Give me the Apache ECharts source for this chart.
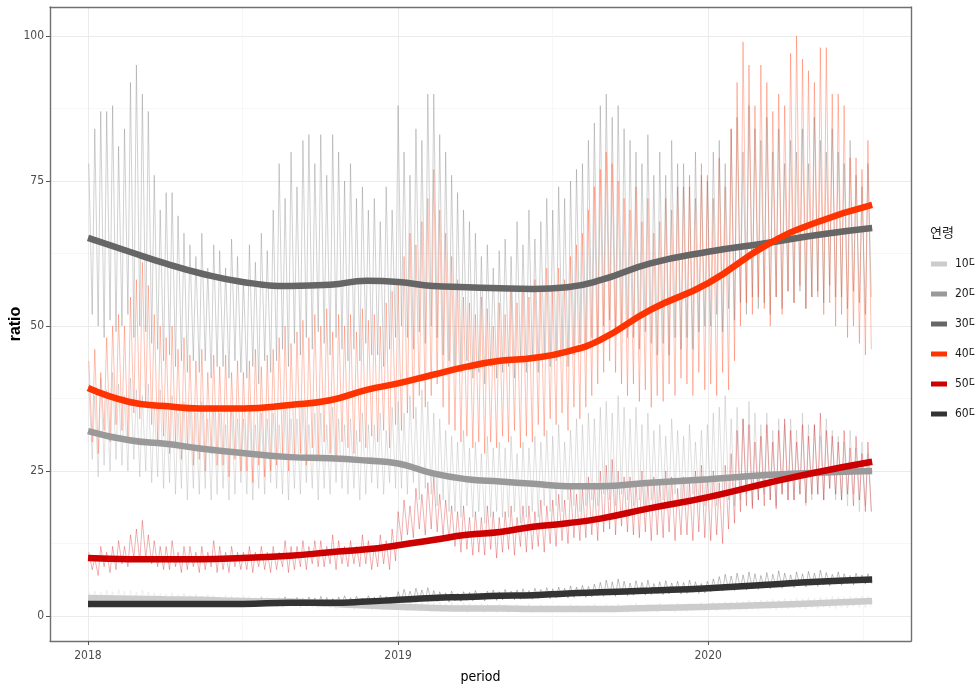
<!DOCTYPE html>
<html>
<head>
<meta charset="utf-8">
<script src="https://cdn.jsdelivr.net/npm/echarts@6/dist/echarts.min.js"></script>
<style>
html, body { margin: 0; background: #fff; }
#chart { width: 975px; height: 691px; }
</style>
</head>
<body>
<div id="chart"></div>
<script>
// 연령대
const ageNames = ['10대', '20대', '30대', '40대', '50대', '60대']
const ageColors = ['#cccccc', '#999999', '#666666', '#ff3300', '#cc0000', '#333333']
const rawColors = ['rgba(204,204,204,0.3)', 'rgba(153,153,153,0.3)', 'rgba(102,102,102,0.3)',
	'rgba(255,51,0,0.3)', 'rgba(204,0,0,0.3)', 'rgba(51,51,51,0.3)']

// 축 눈금
const yearTicks = ['2018-01-01', '2019-01-01', '2020-01-01']
const halfYearTicks = ['2018-07-02', '2019-07-02', '2020-07-02']
const ratioTicks = [0, 25, 50, 75, 100]
const ratioMinorTicks = [12.5, 37.5, 62.5, 87.5]

// 주간 원자료 (2018-01-01 부터 주 단위: 주중 최고 / 주말 최저)
const weekHigh10 = [4.0,4.3,4.1,4.5,4.2,4.6,4.3,4.4,4.1,4.5,4.2,4.0,3.9,3.8,4.0,3.7,3.9,3.6,3.8,3.5,3.7,3.6,3.4,3.6,3.5,3.3,3.5,3.4,3.2,3.4,3.3,3.1,3.3,3.2,3.0,3.2,3.1,2.9,3.1,3.0,2.8,3.0,2.9,2.7,2.9,2.8,2.6,2.8,2.7,2.5,2.7,2.6,
	2.8,2.6,2.5,2.7,2.4,2.6,2.3,2.5,2.2,2.4,2.1,2.3,2.2,2.0,2.2,2.1,1.9,2.1,2.0,1.8,2.0,1.9,2.1,1.8,2.0,1.9,1.7,1.9,1.8,2.0,1.9,1.7,1.9,2.1,1.8,2.0,1.9,2.1,1.8,2.0,2.2,1.9,2.1,2.0,2.2,1.9,2.1,2.3,2.0,2.2,2.1,2.3,
	2.2,2.4,2.3,2.5,2.4,2.6,2.5,2.7,2.6,2.8,2.7,2.9,2.8,3.0,2.9,3.1,3.0,3.2,3.1,3.3,3.2,3.4,3.3,3.2,3.4,3.3,3.5,3.4]
const weekLow10 = [2.4,2.5,2.3,2.6,2.4,2.5,2.3,2.4,2.2,2.4,2.3,2.2,2.3,2.1,2.2,2.0,2.2,2.1,1.9,2.1,2.0,1.9,2.0,1.8,2.0,1.9,1.7,1.9,1.8,1.6,1.8,1.7,1.5,1.7,1.6,1.4,1.6,1.5,1.3,1.5,1.4,1.2,1.4,1.3,1.1,1.3,1.2,1.0,1.2,1.1,1.0,1.1,
	1.0,0.9,1.0,0.8,0.9,0.8,0.9,0.7,0.8,0.7,0.8,0.6,0.7,0.8,0.6,0.7,0.6,0.7,0.6,0.8,0.6,0.7,0.6,0.7,0.8,0.6,0.7,0.6,0.7,0.8,0.6,0.7,0.6,0.8,0.7,0.6,0.7,0.8,0.6,0.7,0.8,0.7,0.8,0.7,0.9,0.8,0.7,0.9,0.8,0.9,1.0,0.9,
	1.0,0.9,1.1,1.0,1.2,1.1,1.0,1.2,1.1,1.3,1.2,1.1,1.3,1.2,1.4,1.3,1.2,1.4,1.3,1.5,1.4,1.3,1.5,1.4,1.6,1.5,1.4,1.5]

const weekHigh20 = [40,38,41,39,42, 40,38,41,39, 38,40,37,39, 36,38,35,37,36, 35,37,34,36, 35,33,36,34, 34,36,33,35,34, 35,33,36,34, 34,36,33,35, 35,33,36,34,33, 34,32,35,33, 33,35,32,36,
	37,35,38,36,39, 37,35,34,32, 31,30,32,29, 30,28,31,29,30, 29,31,28,30, 29,31,30,32, 31,33,30,32,34, 33,35,34,36, 37,35,38,36, 34,36,33,35,32, 33,31,34,32, 31,33,30,32,
	33,35,36,38,34, 36,34,37,35, 33,35,32,34,33, 34,32,35,33, 33,31,34,32, 31,30,32,29,30, 28]
const weekLow20 = [27,24,26,25,27, 26,25,27,24, 25,23,24,22, 23,21,22,20,22, 21,22,20,21, 22,20,21,23, 21,20,22,21,23, 22,21,20,22, 21,23,22,20, 22,21,23,22,21, 22,20,21,23, 22,21,23,22,
	22,21,23,20,22, 21,19,20,18, 18,17,19,17, 18,16,17,18,17, 17,18,16,17, 18,17,19,18, 19,18,20,19,18, 19,20,19,21, 20,19,21,20, 19,20,18,20,19, 20,19,21,20, 19,21,20,19,
	20,19,21,20,19, 20,21,19,20, 21,20,19,21,20, 20,21,19,20, 21,20,22,20, 20,19,21,18,19, 18]

const weekHigh30 = [78,84,87,87,88, 81,84,92,95, 90,87,76,70, 73,73,69,66,64, 62,66,60,64, 63,60,65,62, 58,64,61,66,63, 70,78,72,80, 74,82,83,78, 83,76,83,80,75, 78,72,74,70, 72,68,74,70,
	88,80,76,84,82, 90,90,83,80, 76,73,70,68, 66,62,64,60,63, 65,62,68,64, 70,65,68,72, 70,74,72,75,77, 78,82,85,88, 90,86,88,84, 82,80,78,83,76, 80,76,82,78, 78,74,80,76,
	75,80,82,78,84, 86,80,88,84, 82,86,80,84,78, 82,80,84,78, 86,82,80,84, 80,78,82,76,74, 78]
const weekLow30 = [52,50,48,51,49, 50,52,48,50, 49,47,46,44, 45,43,44,42,44, 42,44,41,43, 43,41,44,42, 41,43,40,44,42, 44,46,43,47, 45,48,46,49, 47,45,48,46,44, 46,44,47,45, 45,43,46,48,
	50,48,46,49,47, 50,48,45,44, 43,42,44,41, 42,40,43,41,42, 43,41,44,42, 44,42,45,43, 44,46,43,45,47, 46,48,47,50, 51,49,50,48, 48,46,49,47,45, 47,45,48,46, 48,46,49,50,
	50,52,49,53,51, 54,52,55,53, 54,52,55,53,56, 54,56,53,55, 56,54,57,55, 55,53,56,54,52, 55]

const weekHigh40 = [44,46,42,48,50, 52,50,55,58, 61,57,52,50, 48,50,46,48,45, 44,46,42,45, 43,45,42,44, 42,44,46,43,45, 46,48,50,47, 49,51,48,52, 50,53,49,52,50, 52,49,53,51, 52,50,54,56,
	58,62,66,64,68, 72,77,70,66, 62,58,55,54, 52,55,53,50,54, 52,56,54,57, 55,58,56,60, 56,60,58,62,64, 66,70,74,77, 80,78,75,72, 70,74,68,72,66, 68,72,70,74, 74,76,72,78,
	76,72,79,74,84, 92,99,95,88, 95,92,87,90,88, 97,100,96,94, 92,98,98,90, 90,88,79,79,77, 82]
const weekLow40 = [30,28,32,30,33, 32,30,35,34, 36,33,30,31, 28,30,27,29,26, 27,25,28,26, 26,24,27,25, 25,23,26,24,25, 26,28,25,27, 28,26,29,27, 30,28,27,30,29, 28,30,29,31, 30,32,29,33,
	32,35,34,38,36, 38,40,36,33, 32,30,31,29, 30,28,30,29,31, 30,32,29,31, 30,33,31,34, 33,35,32,36,34, 36,38,40,42, 44,42,40,38, 40,37,39,36,38, 37,40,38,41, 40,38,42,39,
	40,38,42,39,44, 50,54,52,55, 53,50,55,52,56, 54,57,53,55, 55,52,54,50, 52,48,50,47,45, 46]

const weekHigh50 = [11,10,12,11,12, 13,12,14,15, 16.5,14,13,12, 12,13,11,12,12, 11,12,11,13, 12,11,12,11, 11,12,11,12,11, 12,11,13,12, 12,13,12,13, 13,12,14,13,12, 13,12,14,13, 12,14,13,15,
	18,20,19,22,21, 23,24,21,20, 19,18,19,17, 18,17,19,18,17, 18,19,17,19, 19,18,20,19, 20,21,20,22,21, 22,24,23,25, 26,27,25,24, 24,23,25,23,24, 23,25,24,22, 24,23,25,26,
	24,25,23,26,28, 32,34,33,30, 31,33,30,32,34, 32,30,33,31, 33,35,32,31, 30,32,29,31,28, 30]
const weekLow50 = [8,7,8.5,7.5,8, 9,8.5,10,9.5, 10,9,8.5,8, 8,8.5,7.5,8,8.5, 7.5,8,8.5,7.5, 8,7.5,8.5,8, 8,7.5,8.5,8,7.5, 8,8.5,7.5,8, 8.5,8,9,8.5, 8.5,9,8,9,8.5, 9,8.5,9,8, 8.5,9,8,9.5,
	13,14,13.5,15,14, 15,14.5,14,13, 12,11,11.5,10.5, 11,10.5,11.5,10,11, 11.5,10.5,12,11, 11.5,12,11,12.5, 12,13,12.5,13.5,13, 13.5,14,13,14.5, 15,14,15.5,14.5, 14,13.5,14.5,13,14, 13.5,14.5,13,14, 14,13,14.5,13.5,
	13,14,12.5,15,16, 18,19,18.5,20, 19,20,18.5,21,20, 20,21,19.5,21, 21,20,22,21, 20,21,19,20,18, 18]

const weekHigh60 = [2.8,3.0,2.7,3.1,2.9,3.2,2.8,3.0,2.7,2.9,3.1,2.8,3.0,2.7,2.9,3.2,2.8,3.0,2.9,2.7,3.1,2.8,3.0,2.9,2.7,3.1,2.9,2.8,3.0,3.2,2.9,3.1,3.0,3.3,2.9,3.2,3.0,3.3,3.1,3.4,3.2,3.0,3.3,3.5,3.2,3.4,3.1,3.5,3.3,3.6,3.4,3.2,
	4.2,4.6,4.3,4.8,4.5,4.9,4.4,4.2,4.0,4.3,3.9,4.2,4.1,4.4,4.0,4.3,4.5,4.2,4.6,4.3,4.5,4.7,4.4,4.8,4.6,4.9,4.7,5.0,4.8,5.2,5.0,5.3,5.1,5.5,5.8,6.2,5.9,6.4,6.0,5.7,6.1,5.8,6.2,5.6,5.9,6.1,5.7,6.0,5.8,6.2,5.9,5.6,
	6.0,6.4,6.8,7.2,6.9,7.4,7.1,7.6,7.3,7.0,7.5,7.2,7.8,7.4,7.1,7.6,7.3,7.7,7.4,7.9,7.5,7.2,7.6,7.3,7.0,7.4,7.1,7.3]
const weekLow60 = [1.7,1.6,1.8,1.7,1.6,1.8,1.7,1.9,1.6,1.7,1.8,1.6,1.7,1.8,1.6,1.7,1.9,1.7,1.6,1.8,1.7,1.6,1.8,1.7,1.9,1.7,1.6,1.8,1.7,1.9,1.8,1.7,1.9,1.8,2.0,1.8,1.9,2.0,1.8,2.1,1.9,2.0,2.1,1.9,2.2,2.0,2.1,2.2,2.0,2.3,2.1,2.2,
	2.4,2.6,2.5,2.8,2.6,2.7,2.5,2.6,2.4,2.6,2.5,2.7,2.6,2.8,2.6,2.9,2.7,2.8,3.0,2.8,2.9,3.1,2.9,3.0,3.2,3.0,3.1,3.3,3.1,3.2,3.4,3.2,3.3,3.5,3.4,3.6,3.4,3.7,3.5,3.6,3.8,3.6,3.7,3.9,3.7,3.8,4.0,3.8,3.9,4.1,3.9,4.0,
	4.2,4.4,4.3,4.6,4.4,4.7,4.5,4.8,4.6,4.9,4.7,5.0,4.8,5.1,4.9,5.2,5.0,5.3,5.1,5.4,5.2,5.5,5.3,5.6,5.4,5.7,5.5,5.6]

// 추세선 (loess)
const smoothDates = ['2018-01-01', '2018-02-19', '2018-04-02', '2018-05-13', '2018-07-02', '2018-08-27', '2018-10-13',
	'2018-11-25', '2019-01-01', '2019-02-11', '2019-03-23', '2019-05-01', '2019-06-09', '2019-07-19', '2019-08-27',
	'2019-10-25', '2020-01-01', '2020-03-10', '2020-05-08', '2020-07-12']
const smooth10 = [3.1, 3.0, 2.9, 2.8, 2.6, 2.5, 2.1, 1.8, 1.6, 1.4, 1.3, 1.3, 1.2, 1.2, 1.2, 1.4, 1.6, 1.9, 2.2, 2.6]
const smooth20 = [31.9, 30.3, 29.7, 28.9, 28.1, 27.4, 27.2, 26.8, 26.3, 24.6, 23.6, 23.2, 22.8, 22.4, 22.4, 23.0, 23.6, 24.3, 24.7, 25.0]
const smooth30 = [65.2, 62.8, 60.8, 59.1, 57.6, 56.9, 57.1, 57.8, 57.6, 56.9, 56.7, 56.5, 56.4, 56.7, 57.9, 60.8, 62.8, 64.3, 65.7, 66.9]
const smooth40 = [39.3, 36.9, 36.2, 35.8, 35.8, 36.4, 37.2, 39.0, 40.1, 41.6, 43.0, 44.0, 44.5, 45.6, 47.6, 52.8, 57.4, 64.0, 67.9, 70.9]
const smooth50 = [10.0, 9.8, 9.8, 9.8, 10.0, 10.4, 11.0, 11.5, 12.2, 13.1, 14.0, 14.5, 15.4, 16.0, 16.8, 18.6, 20.5, 22.9, 24.8, 26.6]
const smooth60 = [2.1, 2.1, 2.1, 2.1, 2.1, 2.3, 2.3, 2.5, 2.8, 3.1, 3.3, 3.5, 3.6, 3.9, 4.1, 4.4, 4.8, 5.4, 5.9, 6.3]

const DAY = 86400000
const START = Date.UTC(2018, 0, 1)
/** 날짜 문자열 -> 2018-01-01 기준 경과 일수 */
function toDay(s) {
	const p = s.split('-')
	return (Date.UTC(+p[0], +p[1] - 1, +p[2]) - START) / DAY
}

// 주 단위 최고/최저 -> 화요일/토요일 점
function weeklyPoints(hi, lo) {
	const pts = []
	hi.forEach((h, k) => {
		pts.push([7 * k + 1, h])
		pts.push([7 * k + 5, lo[k]])
	})
	return pts
}

const rawSets = [
	[weekHigh10, weekLow10], [weekHigh20, weekLow20], [weekHigh30, weekLow30],
	[weekHigh40, weekLow40], [weekHigh50, weekLow50], [weekHigh60, weekLow60],
]
const smoothSets = [smooth10, smooth20, smooth30, smooth40, smooth50, smooth60]

const X_MIN = -44.7
const X_MAX = toDay('2020-01-01') + 238.7
const NARROW = 'Liberation Sans Narrow, DejaVu Sans Condensed, Noto Sans CJK KR, sans-serif'
const FONT = 'Liberation Sans, Arial, Noto Sans CJK KR, sans-serif'
const BORDER = { show: true, onZero: false, lineStyle: { color: '#707070', width: 1.4 } }

const series = []
rawSets.forEach((pair, i) => {
	series.push({
		name: 'raw' + ageNames[i],
		type: 'line',
		data: weeklyPoints(pair[0], pair[1]),
		symbol: 'none',
		silent: true,
		xAxisIndex: 0,
		yAxisIndex: 0,
		lineStyle: { color: rawColors[i], width: 1 },
		itemStyle: { color: rawColors[i] },
		z: 2,
	})
})
smoothSets.forEach((vals, i) => {
	series.push({
		name: ageNames[i],
		type: 'line',
		data: vals.map((v, j) => [toDay(smoothDates[j]), v]),
		symbol: 'none',
		smooth: true,
		silent: true,
		xAxisIndex: 0,
		yAxisIndex: 0,
		lineStyle: { color: ageColors[i], width: 6.5, cap: 'butt' },
		itemStyle: { color: ageColors[i] },
		z: 3,
	})
})

const myChart = echarts.init(document.getElementById('chart'))
const option = {
	animation: false,
	backgroundColor: '#ffffff',
	textStyle: { fontFamily: FONT },
	title: {
		text: '연령',
		left: 925,
		top: 221,
		textStyle: { fontSize: 13, fontWeight: 'normal', color: '#1a1a1a', fontFamily: 'Noto Sans CJK KR' },
	},
	legend: {
		data: ageNames,
		orient: 'vertical',
		left: 931,
		top: 257,
		padding: 0,
		itemWidth: 16,
		itemHeight: 5,
		itemGap: 16,
		icon: 'rect',
		selectedMode: false,
		itemStyle: { borderWidth: 0 },
		textStyle: { fontSize: 12, lineHeight: 14, color: '#1a1a1a', fontFamily: NARROW, padding: [0, 0, 0, 3] },
	},
	grid: { left: 50, top: 7, width: 861, height: 634, outerBoundsMode: 'none', containLabel: false },
	xAxis: [
		{
			type: 'value',
			min: X_MIN,
			max: X_MAX,
			name: 'period',
			nameLocation: 'middle',
			nameGap: 29,
			nameMoveOverlap: false,
			nameTextStyle: { fontSize: 14, color: '#000', fontFamily: NARROW },
			axisLine: BORDER,
			axisTick: { show: true, length: 4, lineStyle: { color: '#555' }, customValues: yearTicks.map(toDay) },
			axisLabel: {
				customValues: yearTicks.map(toDay),
				formatter: (v) => String(new Date(START + v * DAY).getUTCFullYear()),
				fontSize: 12,
				fontFamily: NARROW,
				color: '#4d4d4d',
				margin: 9,
			},
			splitLine: { show: true, lineStyle: { color: '#ebebeb', width: 1 } },
		},
		{
			type: 'value',
			position: 'top',
			min: X_MIN,
			max: X_MAX,
			axisLine: BORDER,
			axisTick: { show: false, customValues: halfYearTicks.map(toDay) },
			axisLabel: { show: false },
			splitLine: { show: true, lineStyle: { color: '#f4f4f4', width: 0.7 } },
		},
	],
	yAxis: [
		{
			type: 'value',
			min: -4.3,
			max: 105,
			name: 'ratio',
			nameLocation: 'middle',
			nameGap: 26,
			nameMoveOverlap: false,
			nameTextStyle: { fontSize: 16, fontWeight: 'bold', color: '#000', fontFamily: FONT },
			axisLine: BORDER,
			axisTick: { show: true, length: 4, lineStyle: { color: '#555' }, customValues: ratioTicks },
			axisLabel: { customValues: ratioTicks, fontSize: 12, fontFamily: NARROW, color: '#4d4d4d', margin: 6 },
			splitLine: { show: true, lineStyle: { color: '#ebebeb', width: 1 } },
		},
		{
			type: 'value',
			position: 'right',
			min: -4.3,
			max: 105,
			axisLine: BORDER,
			axisTick: { show: false, customValues: ratioMinorTicks },
			axisLabel: { show: false },
			splitLine: { show: true, lineStyle: { color: '#f4f4f4', width: 0.7 } },
		},
	],
	series: series,
}
myChart.setOption(option)
</script>
</body>
</html>
